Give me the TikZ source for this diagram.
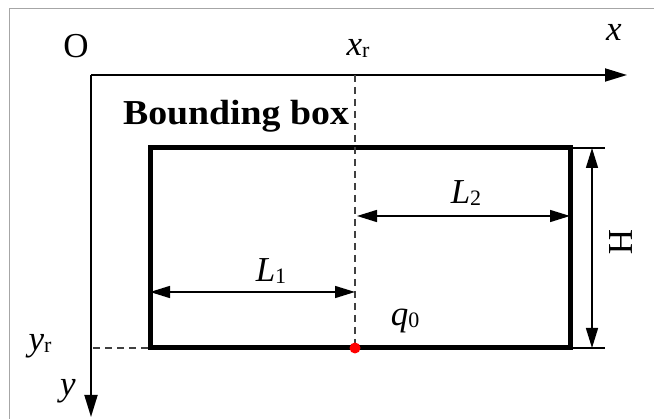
\documentclass[tikz,border=0pt]{standalone}
\usepackage{fontspec}
\setmainfont{Liberation Serif}
\usetikzlibrary{arrows.meta}
\newcommand{\subsm}[1]{\raisebox{-2pt}{\fontsize{22}{22}\selectfont #1}}
\begin{document}
\begin{tikzpicture}[x=1pt,y=-1pt,
  lbl/.style={font=\fontsize{35}{38}\selectfont, inner sep=0pt},
  axis/.style={line width=1.8pt, -{Triangle[length=22pt,width=13pt]}},
  dim/.style={line width=1.5pt, {Triangle[length=20pt,width=12pt]}-{Triangle[length=20pt,width=12pt]}},
  guide/.style={line width=1.2pt, dash pattern=on 7pt off 5pt, black!75},
  ext/.style={line width=1.2pt}]
\useasboundingbox (0,0) rectangle (654,419);
\draw[gray!70, line width=1pt] (9,419) -- (9,9) -- (654,9);
% axes
\coordinate (O) at (91,75);
\coordinate (xend) at (627,75);
\coordinate (yend) at (91,417);
\draw[axis] (O) -- (xend);
\draw[axis] (O) -- (yend);
\node[lbl] (Olab) at (76,46) {O};
\node[lbl] (xlab) at (614,32) {\textit{x}};
\node[lbl] (ylab) at (68,391) {\textit{y}};
% bounding box
\node[draw, line width=5pt, outer sep=0pt, minimum width=420pt, minimum height=200pt, inner sep=0pt] (box) at (360,248) {};
\node[lbl, font=\fontsize{35}{38}\selectfont\bfseries, xscale=1.08] (bbl) at (236,116) {Bounding box};
% reference point
\coordinate (xr) at (355,75);
\coordinate (q0) at (355,348);
\coordinate (yr) at (93,348);
\draw[guide] (xr) -- (q0);
\draw[guide] (yr) -- (box.south west);
\node[circle, fill=red, minimum size=11pt, inner sep=0pt] (q0dot) at (q0) {};
\node[lbl] (xrlab) at (358,48) {\textit{x}\subsm{r}};
\node[lbl] (yrlab) at (40,346) {\textit{y}\subsm{r}};
\node[lbl] (q0lab) at (405,321) {\textit{q}\subsm{0}};
% L1
\coordinate (l1a) at (box.west |- 0,292);
\coordinate (l1b) at (355,292);
\draw[dim] (l1a) -- (l1b);
\node[lbl] (l1lab) at (271,271) {\textit{L}\subsm{1}};
% L2
\coordinate (l2a) at (357,216);
\coordinate (l2b) at (box.east |- 0,216);
\draw[dim] (l2a) -- (l2b);
\node[lbl] (l2lab) at (466,193) {\textit{L}\subsm{2}};
% H
\coordinate (ht) at (605,148);
\coordinate (hb) at (605,348);
\draw[ext] (box.north east) -- (ht);
\draw[ext] (box.south east) -- (hb);
\coordinate (ha) at (592,148);
\coordinate (hz) at (592,348);
\draw[dim] (ha) -- (hz);
\node[lbl, rotate=-90] (hlab) at (621,242) {H};
\end{tikzpicture}
\end{document}
